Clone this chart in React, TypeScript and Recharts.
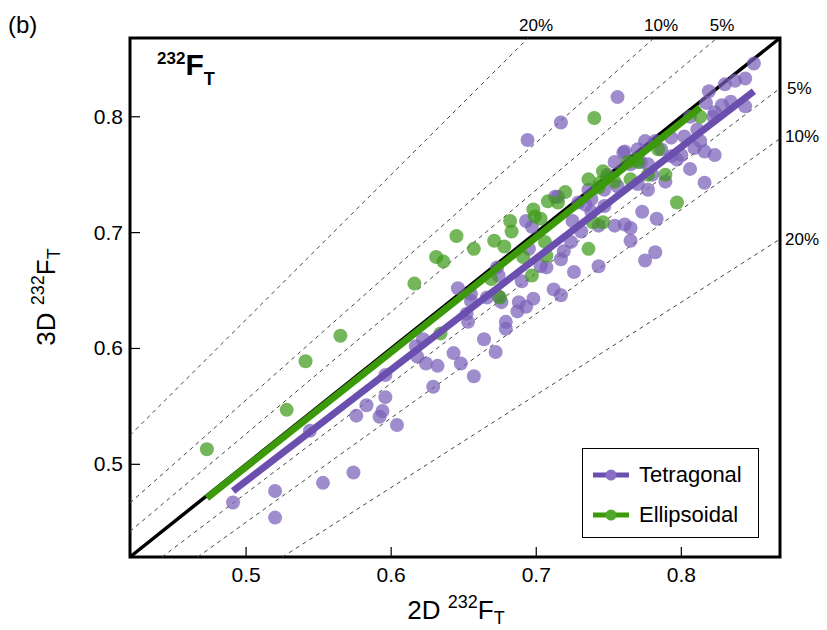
import { ScatterChart, Scatter, XAxis, YAxis, ReferenceLine, ReferenceArea, Legend } from "recharts";

// 2D vs 3D 232F_T, tetragonal and ellipsoidal models
const tetraX = [
  0.491, 0.52, 0.52, 0.553, 0.574, 0.544, 0.576, 0.583, 0.594, 0.596, 0.592, 0.604, 0.596, 0.629, 0.657,
  0.617, 0.622, 0.618, 0.624, 0.632, 0.643, 0.648, 0.664, 0.672, 0.652, 0.653, 0.646, 0.655, 0.655, 0.666,
  0.674, 0.676, 0.673, 0.674, 0.69, 0.707, 0.712, 0.688, 0.693, 0.698, 0.687, 0.679, 0.679, 0.693, 0.713,
  0.697, 0.695, 0.703, 0.773, 0.783, 0.761, 0.765, 0.765, 0.782, 0.775, 0.743, 0.726, 0.717, 0.719, 0.724,
  0.717, 0.738, 0.743, 0.731, 0.747, 0.756, 0.717, 0.694, 0.819, 0.817, 0.806, 0.811, 0.802, 0.793, 0.782,
  0.775, 0.793, 0.8, 0.809, 0.816, 0.823, 0.822, 0.754, 0.76, 0.77, 0.765, 0.772, 0.806, 0.816, 0.789,
  0.756, 0.777, 0.747, 0.738, 0.729, 0.715, 0.85, 0.844, 0.837, 0.83, 0.828, 0.834, 0.844, 0.823, 0.813,
  0.786, 0.761, 0.734, 0.725, 0.754, 0.777, 0.797, 0.749, 0.77, 0.78, 0.736,
];
const tetraY = [
  0.467, 0.477, 0.454, 0.484, 0.493, 0.529, 0.542, 0.551, 0.546, 0.558, 0.541, 0.534, 0.577, 0.567, 0.576,
  0.602, 0.608, 0.593, 0.587, 0.585, 0.596, 0.587, 0.608, 0.597, 0.63, 0.623, 0.652, 0.647, 0.641, 0.644,
  0.645, 0.64, 0.67, 0.663, 0.658, 0.67, 0.651, 0.64, 0.636, 0.643, 0.632, 0.623, 0.617, 0.71, 0.731,
  0.705, 0.686, 0.671, 0.718, 0.712, 0.707, 0.704, 0.693, 0.683, 0.676, 0.671, 0.666, 0.677, 0.684, 0.692,
  0.646, 0.718, 0.706, 0.701, 0.723, 0.817, 0.795, 0.78, 0.822, 0.812, 0.8, 0.789, 0.783, 0.782, 0.779,
  0.779, 0.766, 0.767, 0.773, 0.77, 0.767, 0.8, 0.761, 0.769, 0.772, 0.759, 0.761, 0.755, 0.743, 0.744,
  0.74, 0.737, 0.737, 0.729, 0.726, 0.731, 0.846, 0.833, 0.831, 0.828, 0.81, 0.813, 0.809, 0.804, 0.779,
  0.772, 0.77, 0.724, 0.71, 0.706, 0.759, 0.763, 0.75, 0.742, 0.75, 0.737,
];
const ellipX = [
  0.473, 0.528, 0.541, 0.565, 0.616, 0.631, 0.636, 0.645, 0.657, 0.669, 0.671, 0.678, 0.682, 0.683, 0.698,
  0.699, 0.703, 0.708, 0.706, 0.691, 0.697, 0.634, 0.675, 0.707, 0.797, 0.736, 0.746, 0.739, 0.74, 0.813,
  0.789, 0.736, 0.746, 0.744, 0.763, 0.77, 0.754, 0.72, 0.715, 0.749, 0.765, 0.743, 0.769, 0.777, 0.784,
];
const ellipY = [
  0.513, 0.547, 0.589, 0.611, 0.656, 0.679, 0.675, 0.697, 0.686, 0.66, 0.693, 0.688, 0.71, 0.701, 0.72,
  0.714, 0.712, 0.727, 0.692, 0.679, 0.663, 0.613, 0.644, 0.68, 0.726, 0.686, 0.709, 0.709, 0.799, 0.8,
  0.75, 0.746, 0.753, 0.743, 0.761, 0.761, 0.744, 0.735, 0.726, 0.748, 0.746, 0.739, 0.763, 0.75, 0.772,
];
// fitted lines (end points)
const tetraFitX = [0.491, 0.85];
const tetraFitY = [0.477, 0.822];
const ellipFitX = [0.473, 0.813];
const ellipFitY = [0.471, 0.808];

const axisTicks = [0.5, 0.6, 0.7, 0.8];
const bandLevels = [0.05, 0.1, 0.2];
const DOMAIN: [number, number] = [0.42, 0.868];

const PURPLE_DOT = "#7a5fb8";
const PURPLE_LINE = "#6a4fae";
const GREEN_DOT = "#3f9a1a";
const GREEN_LINE = "#3c9a0a";
const FONT = "'Liberation Sans', Arial, Helvetica, sans-serif";

const zip = (xs: number[], ys: number[]) => xs.map((x, i) => ({ x, y: ys[i] }));
const tetra = zip(tetraX, tetraY);
const ellip = zip(ellipX, ellipY);
const tetraFit = zip(tetraFitX, tetraFitY);
const ellipFit = zip(ellipFitX, ellipFitY);

const [lo, hi] = DOMAIN;
// y = x/(1-p) above the 1:1 line, y = x(1-p) below it
const bandSegments = bandLevels.flatMap((p) => {
  const up = 1 / (1 - p);
  const dn = 1 - p;
  return [
    [{ x: lo, y: lo * up }, { x: hi / up, y: hi }],
    [{ x: lo / dn, y: lo }, { x: hi, y: hi * dn }],
  ];
});

const dot = (color: string) => (p: any) => (
  <circle cx={p.cx} cy={p.cy} r={7} fill={color} fillOpacity={0.72} />
);

const XTick = (p: any) => (
  <g>
    <line x1={p.x} x2={p.x} y1={557} y2={547} stroke="#000" strokeWidth={1.2} />
    <text x={p.x} y={582} textAnchor="middle" fontSize={21} fontFamily={FONT} fill="#000">
      {p.payload.value.toFixed(1)}
    </text>
  </g>
);

const YTick = (p: any) => (
  <g>
    <line x1={130} x2={140} y1={p.y} y2={p.y} stroke="#000" strokeWidth={1.2} />
    <text x={123} y={p.y + 7} textAnchor="end" fontSize={21} fontFamily={FONT} fill="#000">
      {p.payload.value.toFixed(1)}
    </text>
  </g>
);

const legendItems = [
  { name: "Tetragonal", color: PURPLE_LINE, dotColor: "#8a70c4" },
  { name: "Ellipsoidal", color: GREEN_LINE, dotColor: "#4fa82a" },
];

const LegendBox = () => (
  <div
    style={{
      border: "1.5px solid #000",
      background: "#fff",
      width: 177,
      height: 90,
      boxSizing: "border-box",
      fontFamily: FONT,
      paddingTop: 6,
    }}
  >
    {legendItems.map((it) => (
      <div key={it.name} style={{ display: "flex", alignItems: "center", height: 40, paddingLeft: 9 }}>
        <svg width={38} height={14}>
          <line x1={1} x2={37} y1={7} y2={7} stroke={it.color} strokeWidth={5} />
          <circle cx={19} cy={7} r={5.5} fill={it.dotColor} />
        </svg>
        <span style={{ fontSize: 22, marginLeft: 9, color: "#000" }}>{it.name}</span>
      </div>
    ))}
  </div>
);

export default function App() {
  return (
    <div style={{ position: "absolute", left: 0, top: 0, width: 827, height: 630, background: "#fff" }}>
      <ScatterChart width={827} height={630} margin={{ top: 38, right: 47, bottom: 43, left: 0 }}>
        <XAxis
          type="number"
          dataKey="x"
          domain={DOMAIN}
          allowDataOverflow
          ticks={axisTicks}
          tick={XTick}
          tickLine={false}
          tickSize={0}
          axisLine={false}
          height={30}
        />
        <YAxis
          type="number"
          dataKey="y"
          domain={DOMAIN}
          allowDataOverflow
          ticks={axisTicks}
          tick={YTick}
          tickLine={false}
          tickSize={0}
          axisLine={false}
          width={130}
        />
        {bandSegments.map((seg, i) => (
          <ReferenceLine
            key={i}
            segment={seg}
            ifOverflow="visible"
            stroke="#444"
            strokeWidth={1}
            strokeDasharray="4 4"
          />
        ))}
        <ReferenceLine
          segment={[{ x: lo, y: lo }, { x: hi, y: hi }]}
          ifOverflow="visible"
          stroke="#000"
          strokeWidth={3.5}
        />
        <Scatter name="Tetragonal" data={tetra} shape={dot(PURPLE_DOT)} isAnimationActive={false} />
        <Scatter name="Ellipsoidal" data={ellip} shape={dot(GREEN_DOT)} isAnimationActive={false} />
        <Scatter
          data={ellipFit}
          line={{ stroke: GREEN_LINE, strokeWidth: 7 }}
          shape={() => <g />}
          legendType="none"
          isAnimationActive={false}
        />
        <Scatter
          data={tetraFit}
          line={{ stroke: PURPLE_LINE, strokeWidth: 7 }}
          shape={() => <g />}
          legendType="none"
          isAnimationActive={false}
        />
        <ReferenceArea
          x1={lo}
          x2={hi}
          y1={lo}
          y2={hi}
          ifOverflow="visible"
          fill="none"
          stroke="#000"
          strokeWidth={3}
        />
        <Legend
          content={LegendBox}
          wrapperStyle={{ left: 582, top: 448, width: 0, height: 0, overflow: "visible" }}
        />
      </ScatterChart>
      <svg
        width={827}
        height={630}
        style={{ position: "absolute", left: 0, top: 0, pointerEvents: "none" }}
        fontFamily={FONT}
      >
        <text x={8} y={33} fontSize={24}>(b)</text>
        <text x={157} y={75} fontWeight="bold">
          <tspan fontSize={17} dy={-11}>232</tspan>
          <tspan fontSize={30} dy={11}>F</tspan>
          <tspan fontSize={18} dy={10}>T</tspan>
        </text>
        <text x={536} y={31} fontSize={17} textAnchor="middle">20%</text>
        <text x={661} y={31} fontSize={17} textAnchor="middle">10%</text>
        <text x={722} y={31} fontSize={17} textAnchor="middle">5%</text>
        <text x={787} y={94} fontSize={17}>5%</text>
        <text x={785} y={142} fontSize={17}>10%</text>
        <text x={785} y={245} fontSize={17}>20%</text>
        <text x={456} y={619} fontSize={26} textAnchor="middle">
          2D <tspan fontSize={18} dy={-11}>232</tspan>
          <tspan dy={11}>F</tspan>
          <tspan fontSize={18} dy={5}>T</tspan>
        </text>
        <text transform="translate(55,297) rotate(-90)" fontSize={26} textAnchor="middle">
          3D <tspan fontSize={18} dy={-11}>232</tspan>
          <tspan dy={11}>F</tspan>
          <tspan fontSize={18} dy={5}>T</tspan>
        </text>
      </svg>
    </div>
  );
}
